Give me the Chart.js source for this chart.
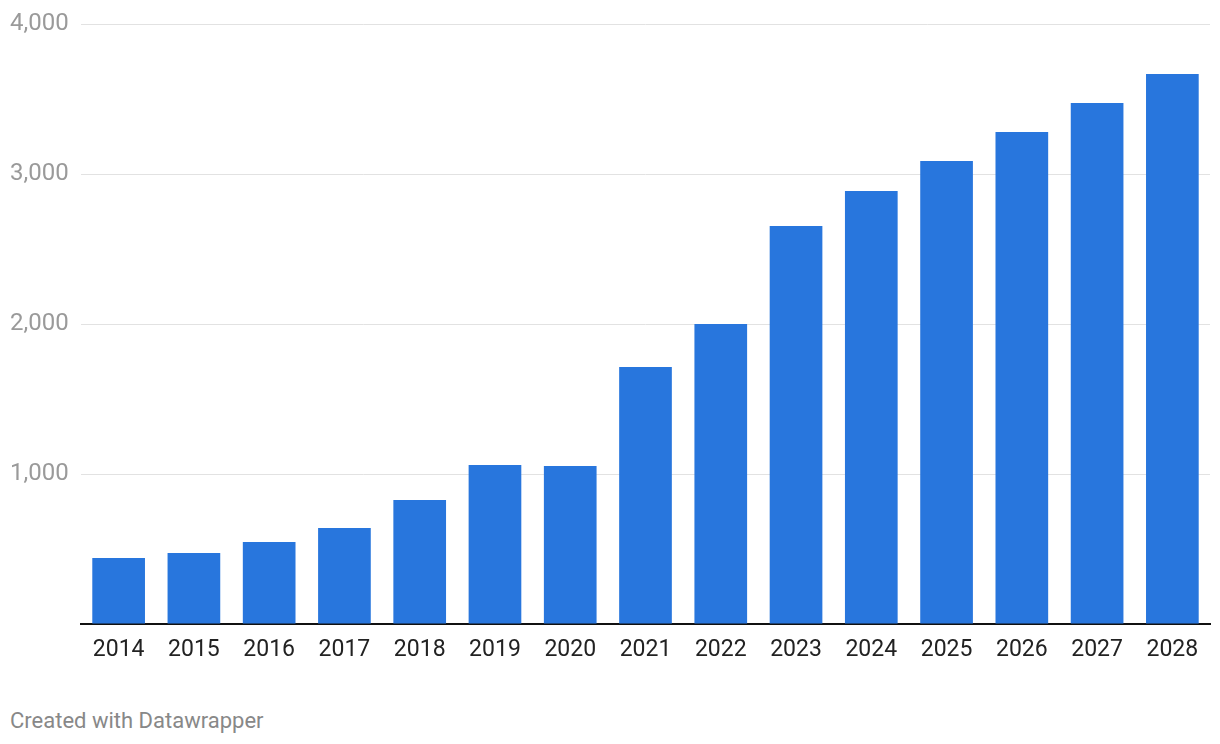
<!DOCTYPE html>
<html><head><meta charset="utf-8">
<script src="https://cdn.jsdelivr.net/npm/chart.js@4"></script>
<style>
html,body{margin:0;padding:0;background:#fff;}
#wrap{position:relative;width:1220px;height:744px;}
#c{position:absolute;left:0;top:0;}
#credit{position:absolute;left:10px;top:708px;font-family:Roboto,sans-serif;font-size:22px;color:#888;}
</style></head>
<body>
<div id="wrap">
<canvas id="c" width="1220" height="674"></canvas>
<div id="credit">Created with Datawrapper</div>
</div>
<script>
const years = ['2014','2015','2016','2017','2018','2019','2020','2021','2022','2023','2024','2025','2026','2027','2028'];
const values = [440, 473, 547, 640, 827, 1060, 1053, 1713, 2000, 2653, 2887, 3087, 3280, 3473, 3667];
const yTicks = [0, 1000, 2000, 3000, 4000];

new Chart(document.getElementById('c'), {
  type: 'bar',
  data: { labels: years, datasets: [{ data: values, backgroundColor: '#2876DD', barPercentage: 0.7, categoryPercentage: 1.0 }] },
  options: {
    responsive: false, animation: false,
    layout: { padding: { left: 10, right: 10, top: 24, bottom: 0 } },
    plugins: { legend: { display: false }, tooltip: { enabled: false } },
    scales: {
      x: {
        grid: { display: false, drawTicks: false },
        border: { color: '#111', width: 2 },
        afterFit: (s) => { s.height = 50; },
        ticks: { color: '#222', font: { family: 'Roboto', size: 23 }, padding: 12, maxRotation: 0 }
      },
      y: {
        min: 0, max: 4000,
        afterBuildTicks: (s) => { s.ticks = yTicks.map(v => ({ value: v })); },
        afterFit: (s) => { s.width = 71; },
        border: { display: false },
        grid: { color: (ctx) => ctx.tick && ctx.tick.value === 0 ? 'rgba(0,0,0,0)' : '#e2e2e2', drawTicks: false, lineWidth: 1 },
        ticks: {
          crossAlign: 'far', padding: 0, color: '#9a9a9a', font: { family: 'Roboto', size: 24 },
          callback: (v) => v === 0 ? '' : v.toLocaleString('en-US')
        }
      }
    }
  }
});
</script>
</body></html>
